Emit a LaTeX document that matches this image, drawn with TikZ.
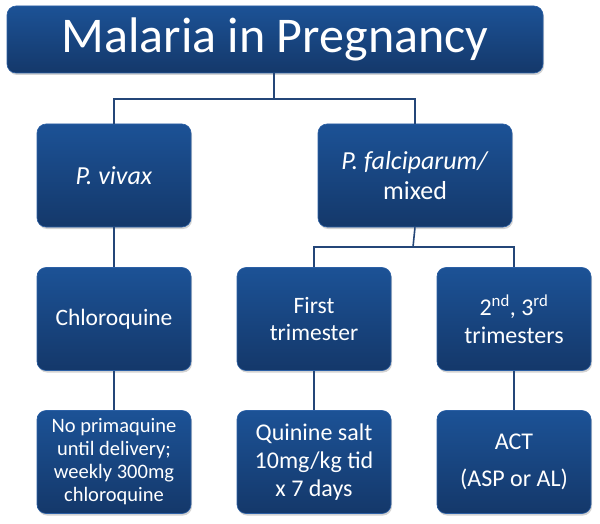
\documentclass[tikz,border=0pt]{standalone}
\usepackage{fontspec}
\setmainfont{Carlito}
\usetikzlibrary{shadows}
\definecolor{boxtop}{RGB}{28,82,150}
\definecolor{boxbot}{RGB}{20,56,106}
\definecolor{boxedge}{RGB}{44,96,165}
\definecolor{linkcol}{RGB}{36,70,120}
\begin{document}
\begin{tikzpicture}[x=1pt,y=-1pt,
  bx/.style={rectangle, rounded corners=9pt, draw=boxedge, line width=0.6pt,
    top color=boxtop, bottom color=boxbot, text=white, align=center,
    inner sep=0pt, minimum width=154pt, minimum height=103pt,
    drop shadow={opacity=0.35, shadow xshift=1pt, shadow yshift=-2pt}},
  link/.style={draw=linkcol, line width=1.6pt}]
\useasboundingbox (0,0) rectangle (600,524);
% title
\node[bx, minimum width=536pt, minimum height=67pt,
  font=\fontsize{50}{58}\selectfont] (title) at (275,39.5) {Malaria in Pregnancy};
% row 2
\node[bx, font=\fontsize{26}{30}\selectfont] (viv) at (114,175.5) {\textit{P. vivax}};
\node[bx, minimum width=194pt, font=\fontsize{26}{30}\selectfont] (fal) at (415,175.5) {\textit{P. falciparum/}\\mixed};
% row 3
\node[bx, font=\fontsize{23.5}{26.5}\selectfont] (chl) at (114,319) {Chloroquine};
\node[bx, font=\fontsize{23.5}{26.5}\selectfont] (fst) at (314,319) {First\\trimester};
\node[bx, font=\fontsize{24}{28}\selectfont] (snd) at (514,319) {2\textsuperscript{nd}, 3\textsuperscript{rd}\\trimesters};
% row 4
\node[bx, font=\fontsize{20.5}{23}\selectfont] (nop) at (114,462) {No primaquine\\until delivery;\\weekly 300mg\\chloroquine};
\node[bx, font=\fontsize{24}{28}\selectfont] (qui) at (314,462) {Quinine salt\\10mg/kg tid\\x 7 days};
\node[bx, font=\fontsize{24}{28}\selectfont] (act) at (514,462) {ACT\\[9pt](ASP or AL)};
% connectors
\coordinate (j1) at (274,99);
\coordinate (j2) at (413,247);
\draw[link] (title.south -| j1) -- (j1) -| (viv.north);
\draw[link] (j1) -| (fal.north);
\draw[link] (fal.south) -- (j2) -| (fst.north);
\draw[link] (j2) -| (snd.north);
\draw[link] (viv) -- (chl);
\draw[link] (chl) -- (nop);
\draw[link] (fst) -- (qui);
\draw[link] (snd) -- (act);
\end{tikzpicture}
\end{document}
